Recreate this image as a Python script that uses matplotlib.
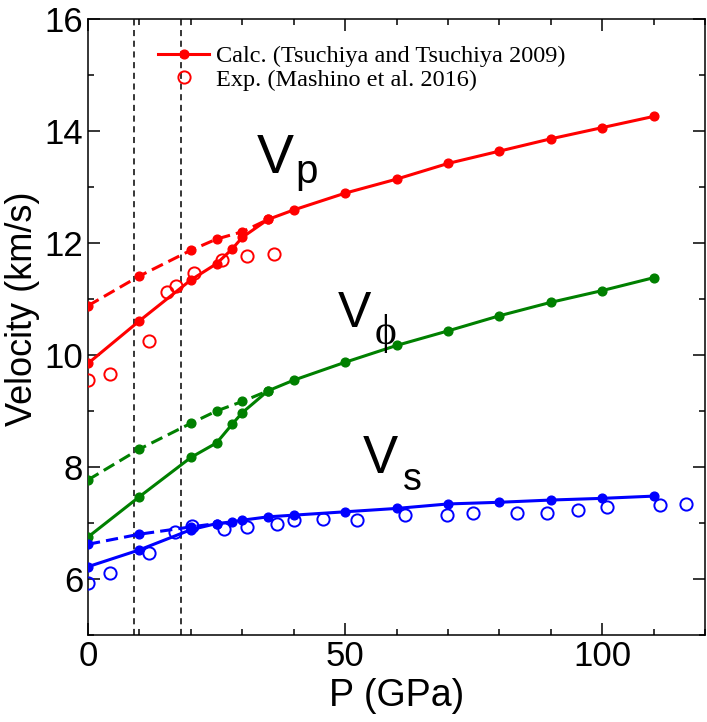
import numpy as np
import matplotlib
matplotlib.use('Agg')
import matplotlib.pyplot as plt
from matplotlib.lines import Line2D

plt.rcParams['font.family'] = ['Liberation Sans', 'DejaVu Sans']

# pressure points of the calculation (GPa)
p_calc = [0, 10, 20, 25, 28, 30, 35, 40, 50, 60, 70, 80, 90, 100, 110]
vp_calc = [9.85, 10.61, 11.34, 11.63, 11.89, 12.10, 12.42, 12.59, 12.89, 13.14, 13.42, 13.64, 13.86, 14.06, 14.26]
vphi_calc = [6.75, 7.47, 8.17, 8.43, 8.76, 8.97, 9.36, 9.55, 9.87, 10.17, 10.43, 10.70, 10.94, 11.15, 11.38]
vs_calc = [6.22, 6.52, 6.88, 6.99, 7.02, 7.05, 7.11, 7.14, 7.20, 7.26, 7.34, 7.37, 7.41, 7.44, 7.48]

# dashed branches at low pressure
p_vp_dash = [0, 10, 20, 25, 30, 35]
vp_dash = [10.88, 11.41, 11.87, 12.07, 12.20, 12.42]
p_vphi_dash = [0, 10, 20, 25, 30, 35]
vphi_dash = [7.77, 8.32, 8.78, 9.00, 9.17, 9.36]
p_vs_dash = [0, 10, 20, 25]
vs_dash = [6.62, 6.80, 6.93, 6.99]

# experiments (Mashino et al. 2016)
p_vp_exp = [0, 4.3, 11.9, 15.4, 17.1, 20.6, 26.0, 30.9, 36.2]
vp_exp = [9.55, 9.66, 10.25, 11.13, 11.23, 11.46, 11.70, 11.77, 11.80]
p_vs_exp = [0, 4.3, 11.9, 16.9, 20.2, 26.5, 30.9, 36.7, 40.0, 45.7, 52.3, 61.7, 69.8, 74.8, 83.4, 89.2, 95.3, 100.9, 111.3, 116.3]
vs_exp = [5.92, 6.10, 6.46, 6.84, 6.95, 6.89, 6.93, 6.98, 7.05, 7.07, 7.05, 7.14, 7.14, 7.17, 7.17, 7.18, 7.24, 7.29, 7.32, 7.34]

# transition pressures
p_trans = [9, 18]

fig = plt.figure(figsize=(7.07, 7.22), dpi=100)
ax = fig.add_axes([0.1245, 0.1205, 0.8727, 0.8532])

lw = 2.2
ms = 6.3
dash = (4, 2)

for p_c, v_c, p_d, v_d, col in [(p_calc, vp_calc, p_vp_dash, vp_dash, 'red'),
                                 (p_calc, vphi_calc, p_vphi_dash, vphi_dash, 'green'),
                                 (p_calc, vs_calc, p_vs_dash, vs_dash, 'blue')]:
    ax.plot(p_c, v_c, '-o', color=col, lw=lw, ms=ms, zorder=3)
    ax.plot(p_d, v_d, '--o', color=col, lw=lw, ms=ms, dashes=dash, zorder=3)

ax.plot(p_vp_exp, vp_exp, 'o', mfc='none', mec='red', ms=8.8, mew=1.4, zorder=4)
ax.plot(p_vs_exp, vs_exp, 'o', mfc='none', mec='blue', ms=8.8, mew=1.4, zorder=4)

for p in p_trans:
    ax.axvline(p, color='black', ls='--', lw=1.1, dashes=(4, 3), zorder=2)

ax.set_xlim(0, 120)
ax.set_ylim(5, 16)
ax.set_xticks([0, 50, 100])
ax.set_xticks(np.arange(0, 121, 10), minor=True)
ax.set_yticks([6, 8, 10, 12, 14, 16])
ax.set_yticks(np.arange(5, 17, 1), minor=True)
ax.tick_params(which='both', direction='in', top=True, right=True, width=1.1, labelsize=25)
ax.tick_params(which='major', length=8.6)
ax.tick_params(which='minor', length=4.3)
for s in ax.spines.values():
    s.set_linewidth(1.1)

ax.set_xlabel('P (GPa)', fontsize=27, labelpad=4)
ax.set_ylabel('Velocity (km/s)', fontsize=26)
ax.yaxis.set_label_coords(-0.078, 0.53)

# curve labels
ax.text(32.9, 13.25, 'V', fontsize=40, ha='left', va='baseline')
ax.text(40.3, 13.07, 'p', fontsize=29, ha='left', va='baseline')
ax.text(48.6, 10.5, 'V', fontsize=36, ha='left', va='baseline')
ax.text(55.8, 10.39, '\u03d5', fontsize=30, ha='left', va='center',
        family=['Liberation Serif', 'DejaVu Serif'])
ax.text(53.5, 7.89, 'V', fontsize=38, ha='left', va='baseline')
ax.text(61.3, 7.59, 's', fontsize=27, ha='left', va='baseline')

handles = [Line2D([], [], color='red', marker='o', lw=lw, ms=ms),
           Line2D([], [], color='red', marker='o', ls='none', mfc='none', ms=8.8, mew=1.4)]
labels = ['Calc. (Tsuchiya and Tsuchiya 2009)', 'Exp. (Mashino et al. 2016)']
ax.legend(handles, labels, loc='upper left', bbox_to_anchor=(0.1135, 0.957),
          frameon=False, borderpad=0, borderaxespad=0, handlelength=2.1,
          handletextpad=0.3, labelspacing=0.05,
          prop={'family': 'Liberation Serif', 'size': 17.5})

fig.savefig('out.png', dpi=100)
